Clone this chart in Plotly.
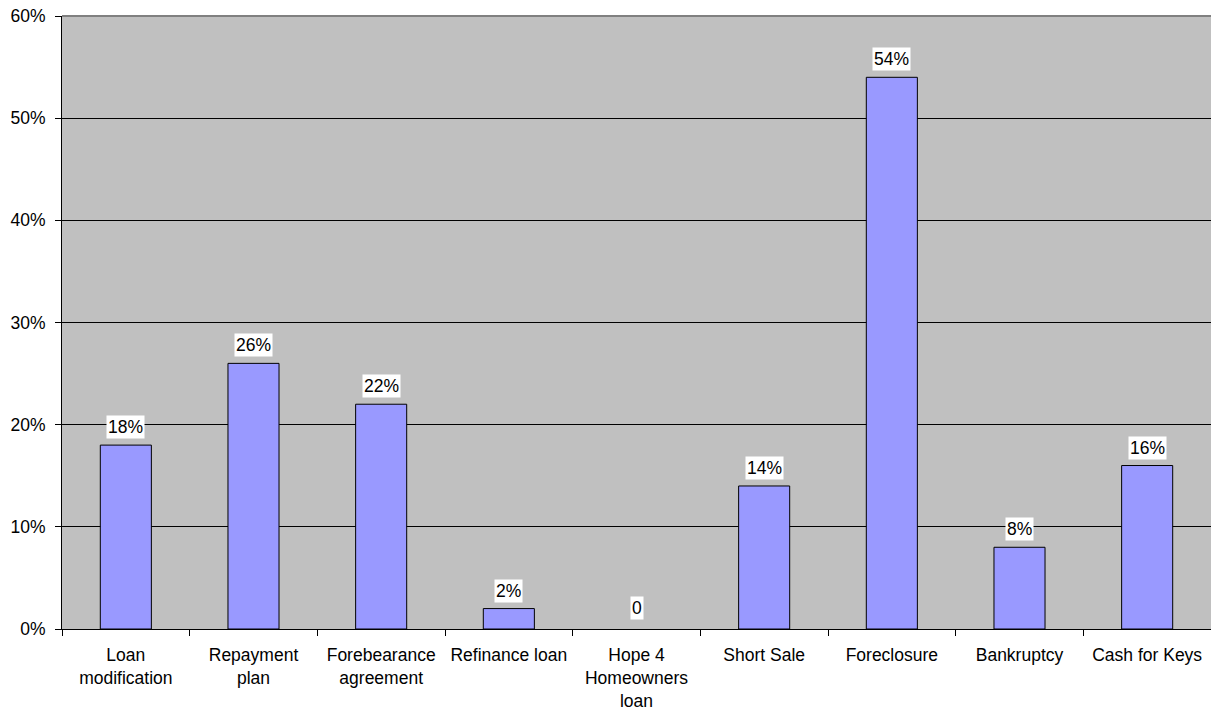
import plotly.graph_objects as go

categories = ["Loan<br>modification", "Repayment<br>plan", "Forebearance<br>agreement",
              "Refinance loan", "Hope 4<br>Homeowners<br>loan", "Short Sale",
              "Foreclosure", "Bankruptcy", "Cash for Keys"]
values = [18, 26, 22, 2, 0, 14, 54, 8, 16]
value_labels = ["18%", "26%", "22%", "2%", "0", "14%", "54%", "8%", "16%"]
y_ticks = [0, 10, 20, 30, 40, 50, 60]
y_tick_labels = ["0%", "10%", "20%", "30%", "40%", "50%", "60%"]

FONT = "Liberation Sans, Arial, sans-serif"
FS = 17.5

fig = go.Figure()
fig.add_trace(go.Bar(
    x=categories, y=values,
    marker=dict(color="#9999FF",
                line=dict(color="black", width=[1 if v else 0 for v in values])),
    hoverinfo="skip",
))

for c, v, t in zip(categories, values, value_labels):
    fig.add_annotation(x=c, y=v, text=t, showarrow=False, yanchor="bottom",
                       yshift=6 if v else 9, bgcolor="white", borderpad=1,
                       font=dict(family=FONT, size=FS, color="black"))

# gray top border of the plot area
fig.add_shape(type="line", xref="paper", yref="paper", x0=0, x1=1, y0=1, y1=1,
              line=dict(color="#808080", width=2), layer="above")

fig.update_layout(
    width=1211, height=710,
    margin=dict(l=62, r=0, t=16, b=81),
    paper_bgcolor="white", plot_bgcolor="#C0C0C0",
    bargap=0.6, showlegend=False,
    font=dict(family=FONT, size=FS, color="black"),
)
fig.update_xaxes(
    showline=True, linecolor="black", linewidth=1,
    ticks="outside", tickson="boundaries", ticklen=6, tickcolor="black",
    ticklabelstandoff=10, automargin=False,
    showgrid=False, tickfont=dict(family=FONT, size=FS, color="black"),
)
fig.update_yaxes(
    range=[0, 60], tickvals=y_ticks, ticktext=y_tick_labels,
    showline=True, linecolor="black", linewidth=1,
    ticks="outside", ticklen=6, tickcolor="black",
    ticklabelstandoff=6, automargin=False,
    showgrid=True, gridcolor="black", gridwidth=1, zeroline=False,
    tickfont=dict(family=FONT, size=FS, color="black"),
)

fig.write_html("out.html")
